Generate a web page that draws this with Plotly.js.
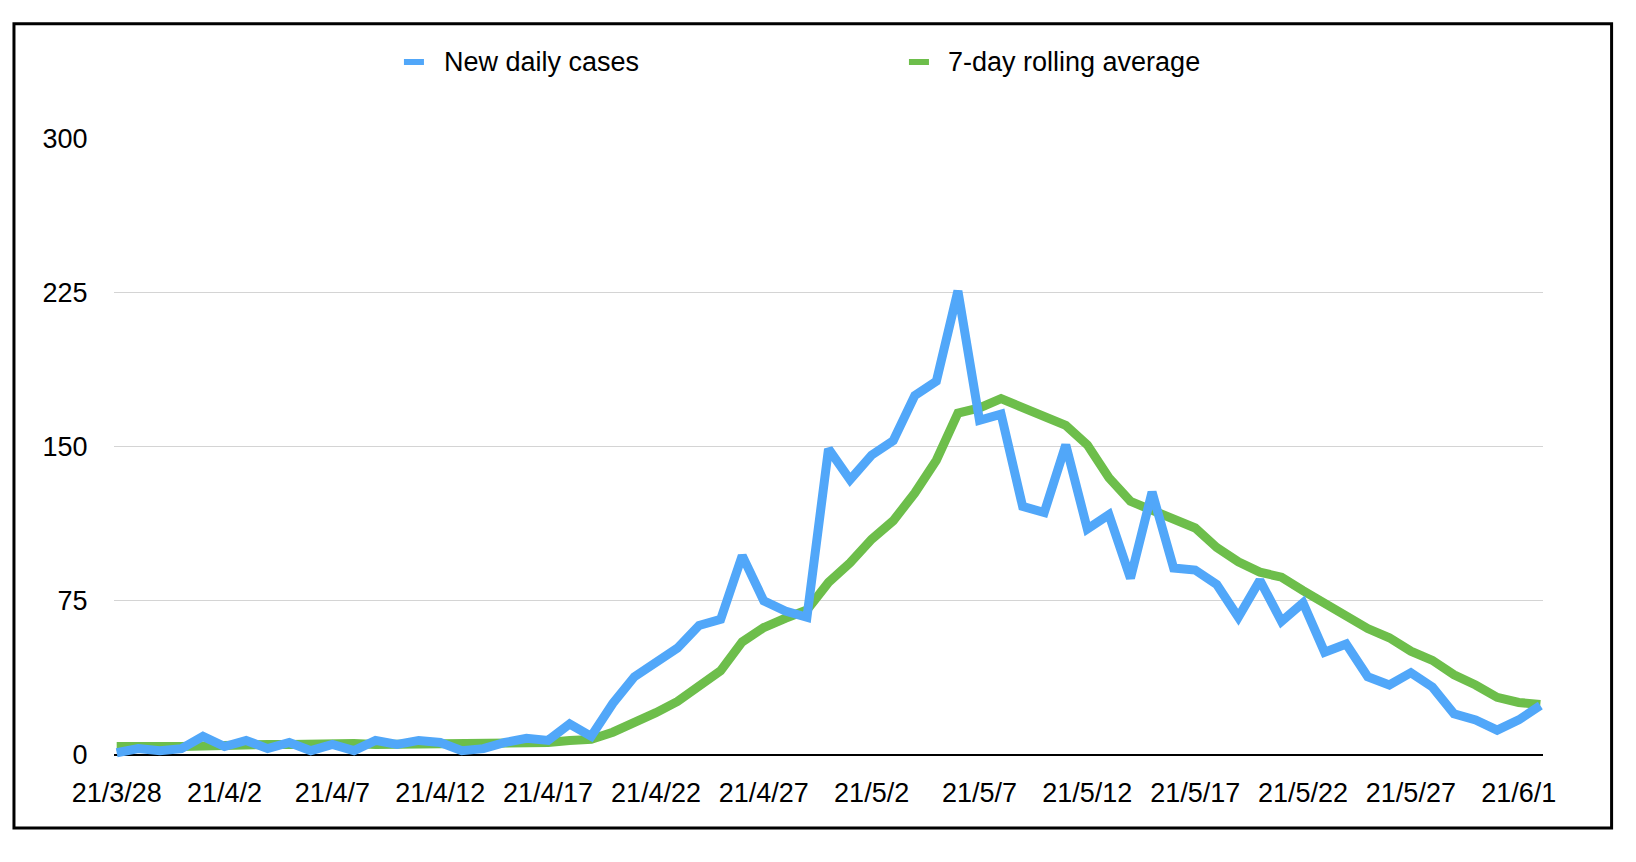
<!DOCTYPE html>
<html>
<head>
<meta charset="utf-8">
<script src="https://cdn.plot.ly/plotly-3.0.1.min.js"></script>
<style>
  html, body { margin: 0; padding: 0; background: #ffffff; }
  #chart { width: 1636px; height: 862px; }
</style>
</head>
<body>
<div id="chart"></div>
<script>
// Dates (one point per day, 2021-03-28 .. 2021-06-02)
const dates = [
  "2021-03-28","2021-03-29","2021-03-30","2021-03-31","2021-04-01","2021-04-02","2021-04-03",
  "2021-04-04","2021-04-05","2021-04-06","2021-04-07","2021-04-08","2021-04-09","2021-04-10",
  "2021-04-11","2021-04-12","2021-04-13","2021-04-14","2021-04-15","2021-04-16","2021-04-17",
  "2021-04-18","2021-04-19","2021-04-20","2021-04-21","2021-04-22","2021-04-23","2021-04-24",
  "2021-04-25","2021-04-26","2021-04-27","2021-04-28","2021-04-29","2021-04-30","2021-05-01",
  "2021-05-02","2021-05-03","2021-05-04","2021-05-05","2021-05-06","2021-05-07","2021-05-08",
  "2021-05-09","2021-05-10","2021-05-11","2021-05-12","2021-05-13","2021-05-14","2021-05-15",
  "2021-05-16","2021-05-17","2021-05-18","2021-05-19","2021-05-20","2021-05-21","2021-05-22",
  "2021-05-23","2021-05-24","2021-05-25","2021-05-26","2021-05-27","2021-05-28","2021-05-29",
  "2021-05-30","2021-05-31","2021-06-01","2021-06-02"
];

const newDailyCases = [
  1, 3, 2, 3, 9, 4, 7,
  3, 6, 2, 5, 2, 7, 5,
  7, 6, 2, 3, 6, 8, 7,
  15, 9, 25, 38, 45, 52, 63,
  66, 97, 75, 70, 67, 149, 134,
  146, 153, 175, 182, 226, 163, 166,
  121, 118, 151, 110, 117, 86, 128,
  91, 90, 83, 67, 85, 65, 74,
  50, 54, 38, 34, 40, 33, 20,
  17, 12, 17, 24
];

const rollingAverage = [
  4, 4.5, 4, 4, 4.5, 4.5, 5,
  5, 5, 5.5, 5.5, 5.5, 5, 5,
  5.5, 5.5, 5.5, 5, 5.5, 6, 6,
  7, 7.5, 11, 15.5, 20.5, 26, 34,
  41, 55, 62, 66.5, 70.5, 84, 93.5,
  105, 114, 127.5, 143.5, 166.5, 169, 173.5,
  169.5, 164.5, 160.5, 151, 135, 123.5, 119,
  114.5, 110.5, 101, 94, 89, 86.5, 80,
  74, 68.5, 61.5, 57, 50.5, 46, 39,
  34, 28, 25.5, 24.5
];

const xTickVals = [
  "2021-03-28","2021-04-02","2021-04-07","2021-04-12","2021-04-17","2021-04-22","2021-04-27",
  "2021-05-02","2021-05-07","2021-05-12","2021-05-17","2021-05-22","2021-05-27","2021-06-01"
];
const xTickText = [
  "21/3/28","21/4/2","21/4/7","21/4/12","21/4/17","21/4/22","21/4/27",
  "21/5/2","21/5/7","21/5/12","21/5/17","21/5/22","21/5/27","21/6/1"
];
const yTickVals = [0, 75, 150, 225, 300];
const seriesNames = ["New daily cases", "7-day rolling average"];
const seriesColors = ["#51A7F9", "#6DBE4B"];

const FONT = "Liberation Sans, Arial, Helvetica, sans-serif";

const traces = [
  {
    x: dates, y: rollingAverage, name: seriesNames[1], type: "scatter", mode: "lines",
    line: { color: seriesColors[1], width: 9, shape: "linear" }, showlegend: false,
    hoverinfo: "x+y"
  },
  {
    x: dates, y: newDailyCases, name: seriesNames[0], type: "scatter", mode: "lines",
    line: { color: seriesColors[0], width: 9, shape: "linear" }, showlegend: false,
    hoverinfo: "x+y"
  }
];

const layout = {
  width: 1636, height: 862,
  paper_bgcolor: "#ffffff", plot_bgcolor: "#ffffff",
  margin: { l: 114, r: 93, t: 139, b: 99, pad: 0 },
  font: { family: FONT, size: 27, color: "#000000" },
  showlegend: false,
  xaxis: {
    type: "date",
    range: ["2021-03-27 21:00", "2021-06-02 03:00"],
    tickmode: "array", tickvals: xTickVals, ticktext: xTickText,
    showgrid: false, zeroline: false, showline: false,
    ticks: "outside", ticklen: 6, tickcolor: "rgba(0,0,0,0)",
    tickfont: { family: FONT, size: 27, color: "#000000" },
    fixedrange: true
  },
  yaxis: {
    range: [-4, 300],
    tickmode: "array", tickvals: yTickVals,
    showgrid: true, gridcolor: "#d4d4d4", gridwidth: 1,
    zeroline: true, zerolinecolor: "#000000", zerolinewidth: 2,
    showline: false,
    ticks: "outside", ticklen: 20, tickcolor: "rgba(0,0,0,0)",
    tickfont: { family: FONT, size: 27, color: "#000000" },
    fixedrange: true
  },
  shapes: [
    { type: "rect", xref: "paper", yref: "paper",
      x0: -0.0700, x1: 1.0480, y0: -0.1040, y1: 1.1845,
      line: { color: "#000000", width: 3 }, fillcolor: "rgba(0,0,0,0)" },
    { type: "line", xref: "paper", yref: "paper",
      x0: 0.2029, x1: 0.2169, y0: 1.1234, y1: 1.1234,
      line: { color: seriesColors[0], width: 6 } },
    { type: "line", xref: "paper", yref: "paper",
      x0: 0.5563, x1: 0.5703, y0: 1.1234, y1: 1.1234,
      line: { color: seriesColors[1], width: 6 } }
  ],
  annotations: [
    { xref: "paper", yref: "paper", x: 0.2295, y: 1.1234, xanchor: "left", yanchor: "middle",
      text: seriesNames[0], showarrow: false, font: { family: FONT, size: 27, color: "#000000" } },
    { xref: "paper", yref: "paper", x: 0.5822, y: 1.1234, xanchor: "left", yanchor: "middle",
      text: seriesNames[1], showarrow: false, font: { family: FONT, size: 27, color: "#000000" } }
  ]
};

Plotly.newPlot("chart", traces, layout, { displayModeBar: false, staticPlot: true });
</script>
</body>
</html>
